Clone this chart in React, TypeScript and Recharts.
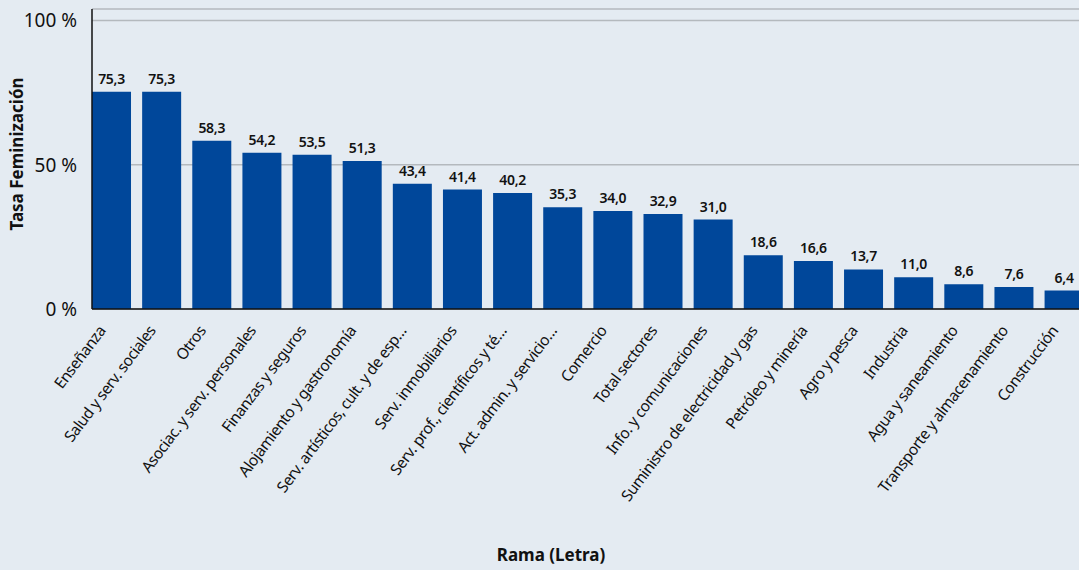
import React from "react";
import {
  BarChart,
  Bar,
  XAxis,
  YAxis,
  CartesianGrid,
  LabelList,
} from "recharts";

const ramas = [
  "Enseñanza",
  "Salud y serv. sociales",
  "Otros",
  "Asociac. y serv. personales",
  "Finanzas y seguros",
  "Alojamiento y gastronomía",
  "Serv. artísticos, cult. y de esp…",
  "Serv. inmobiliarios",
  "Serv. prof., científicos y té…",
  "Act. admin. y servicio…",
  "Comercio",
  "Total sectores",
  "Info. y comunicaciones",
  "Suministro de electricidad y gas",
  "Petróleo y minería",
  "Agro y pesca",
  "Industria",
  "Agua y saneamiento",
  "Transporte y almacenamiento",
  "Construcción",
];

const tasa = [
  75.3, 75.3, 58.3, 54.2, 53.5, 51.3, 43.4, 41.4, 40.2, 35.3, 34.0, 32.9, 31.0,
  18.6, 16.6, 13.7, 11.0, 8.6, 7.6, 6.4,
];

const yTicks = [0, 50, 100];

const data = ramas.map((rama, i) => ({ rama, tasa: tasa[i] }));

const BG = "#e4ebf2";
const BAR = "#00479a";
const TEXT = "#111";
const FONT = "'Noto Sans', 'Open Sans', sans-serif";

const RamaTick = (props: any) => {
  const { x, payload } = props;
  return (
    <g transform={`translate(${x - 5},${331}) rotate(-53)`}>
      <text
        x={0}
        y={0}
        textAnchor="end"
        fill={TEXT}
        fontSize={15.5}
        fontFamily={FONT}
        letterSpacing={-0.5}
      >
        {payload.value}
      </text>
    </g>
  );
};

const App = () => {
  return (
    <div
      style={{
        position: "absolute",
        left: 0,
        top: 0,
        width: 1079,
        height: 570,
        overflow: "hidden",
        background: BG,
      }}
    >
      <BarChart
        width={1089}
        height={570}
        data={data}
        margin={{ top: 9, right: 0, bottom: 0, left: 0 }}
        barCategoryGap="11.4%"
      >
        <CartesianGrid vertical={false} stroke="#b4b9be" strokeWidth={1.5} />
        <XAxis
          dataKey="rama"
          interval={0}
          height={261}
          padding={{ left: -5.7, right: 0 }}
          tickLine={false}
          axisLine={{ stroke: TEXT, strokeWidth: 1.5 }}
          tick={<RamaTick />}
          label={{
            content: () => (
              <text
                x={551}
                y={561}
                textAnchor="middle"
                fontSize={17}
                fontWeight={700}
                fontFamily={FONT}
                fill={TEXT}
              >
                Rama (Letra)
              </text>
            ),
          }}
        />
        <YAxis
          width={92}
          domain={[0, 104]}
          ticks={yTicks}
          tickLine={false}
          tickSize={13}
          axisLine={{ stroke: TEXT, strokeWidth: 1.5 }}
          tickFormatter={(v: number) => `${v} %`}
          tick={{ fontSize: 19, fill: TEXT, fontFamily: FONT }}
          label={{
            content: () => (
              <text
                x={0}
                y={0}
                transform="translate(23,154) rotate(-90)"
                textAnchor="middle"
                fontSize={17}
                fontWeight={700}
                fontFamily={FONT}
                fill={TEXT}
              >
                Tasa Feminización
              </text>
            ),
          }}
        />
        <Bar dataKey="tasa" fill={BAR} isAnimationActive={false}>
          <LabelList
            dataKey="tasa"
            position="top"
            offset={8}
            formatter={(v: any) => Number(v).toFixed(1).replace(".", ",")}
            style={{
              fontSize: 14,
              fontWeight: 600,
              fill: TEXT,
              fontFamily: FONT,
              letterSpacing: -0.3,
            }}
          />
        </Bar>
      </BarChart>
    </div>
  );
};

export default App;
